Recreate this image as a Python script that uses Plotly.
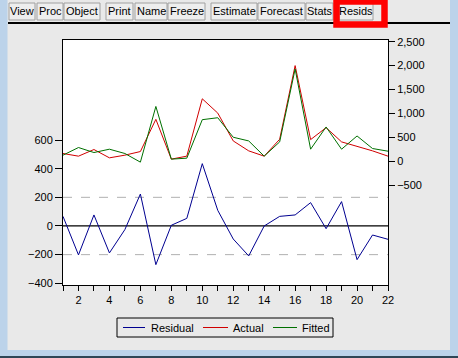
import plotly.graph_objects as go

# ---- data ----
obs = list(range(1, 23))
residual = [67, -202, 77, -188, -25, 223, -270, 5, 53, 435, 109, -91, -209, 0, 67, 77, 163, -19, 170, -235, -63, -93]
actual = [160, 104, 243, 69, 125, 201, 875, 42, 104, 1305, 1006, 423, 215, 104, 458, 2000, 451, 701, 403, 312, 215, 104]
fitted = [125, 285, 180, 250, 160, -21, 1145, 42, 62, 868, 909, 500, 423, 104, 403, 1930, 250, 715, 250, 527, 264, 208]
series_names = ["Residual", "Actual", "Fitted"]
series_colors = ["#000090", "#d00000", "#007000"]
left_ticks = [-400, -200, 0, 200, 400, 600]
right_ticks = [-500, 0, 500, 1000, 1500, 2000, 2500]
x_ticks = obs
x_ticktext = [str(v) if v % 2 == 0 else "" for v in obs]
toolbar_buttons = [("View", 9, 35), ("Proc", 37, 63), ("Object", 64, 100),
                   ("Print", 106, 133), ("Name", 135, 167), ("Freeze", 168, 205),
                   ("Estimate", 211, 257), ("Forecast", 258, 305), ("Stats", 306, 333),
                   ("Resids", 339, 373)]

W, H = 458, 358
L, R, T, B = 63, 388, 40, 285
FONT = "Liberation Sans, Arial, sans-serif"


def px(x):
    return (x - L) / (R - L)


def py(y):
    return (B - y) / (B - T)


fig = go.Figure()
fig.add_trace(go.Scatter(x=obs, y=residual, mode="lines", name=series_names[0],
                         line=dict(color=series_colors[0], width=1), yaxis="y"))
fig.add_trace(go.Scatter(x=obs, y=actual, mode="lines", name=series_names[1],
                         line=dict(color=series_colors[1], width=1), yaxis="y2"))
fig.add_trace(go.Scatter(x=obs, y=fitted, mode="lines", name=series_names[2],
                         line=dict(color=series_colors[2], width=1), yaxis="y2"))

shapes = []
annotations = []

# reference lines on residual axis
for v in (200, -200):
    shapes.append(dict(type="line", xref="paper", yref="y", x0=0, x1=1, y0=v, y1=v,
                       line=dict(color="#b0b0b0", width=1, dash="dash"), layer="below"))
shapes.append(dict(type="line", xref="paper", yref="y", x0=0, x1=1, y0=0, y1=0,
                   line=dict(color="black", width=1.3), layer="below"))

# window chrome
blue = "#bcd3ea"
shapes.append(dict(type="rect", xref="paper", yref="paper", x0=px(0), x1=px(7.5), y0=py(H), y1=py(0),
                   fillcolor=blue, line=dict(width=0)))
shapes.append(dict(type="rect", xref="paper", yref="paper", x0=px(450), x1=px(W), y0=py(H), y1=py(0),
                   fillcolor=blue, line=dict(width=0)))
shapes.append(dict(type="rect", xref="paper", yref="paper", x0=px(0), x1=px(W), y0=py(356), y1=py(350),
                   fillcolor=blue, line=dict(width=0)))
shapes.append(dict(type="rect", xref="paper", yref="paper", x0=px(0), x1=px(W), y0=py(H), y1=py(356),
                   fillcolor="#2f4656", line=dict(width=0)))

# toolbar buttons
for label, x0, x1 in toolbar_buttons:
    shapes.append(dict(type="rect", xref="paper", yref="paper", x0=px(x0), x1=px(x1),
                       y0=py(20), y1=py(3), fillcolor="#eeeeee",
                       line=dict(color="#a0a0a0", width=1)))
    annotations.append(dict(xref="paper", yref="paper", x=px((x0 + x1) / 2), y=py(11.5),
                            text=label, showarrow=False, xanchor="center", yanchor="middle",
                            font=dict(family=FONT, size=11, color="black")))
# separator line under toolbar
shapes.append(dict(type="line", xref="paper", yref="paper", x0=px(8), x1=px(450), y0=py(23), y1=py(23),
                   line=dict(color="black", width=2)))
# red highlight box
shapes.append(dict(type="rect", xref="paper", yref="paper", x0=px(336.5), x1=px(384.5),
                   y0=py(24.5), y1=py(1.5), line=dict(color="#ff0000", width=6.5)))

# legend (drawn manually to match box geometry)
shapes.append(dict(type="rect", xref="paper", yref="paper", x0=px(117), x1=px(333),
                   y0=py(337), y1=py(318), fillcolor="#e9e9e9", line=dict(color="black", width=1)))
leg_pos = [(123, 145, 149), (203, 228, 231), (273, 297, 300)]
for (lx0, lx1, tx), name, col in zip(leg_pos, series_names, series_colors):
    shapes.append(dict(type="line", xref="paper", yref="paper", x0=px(lx0), x1=px(lx1),
                       y0=py(327.5), y1=py(327.5), line=dict(color=col, width=1)))
    annotations.append(dict(xref="paper", yref="paper", x=px(tx), y=py(327.5), text=name,
                            showarrow=False, xanchor="left", yanchor="middle",
                            font=dict(family=FONT, size=11, color="black")))

fig.update_layout(
    width=W, height=H,
    margin=dict(l=L, r=W - R, t=T, b=H - B, pad=0),
    paper_bgcolor="#e9e9e9", plot_bgcolor="white",
    showlegend=False,
    font=dict(family=FONT, size=11, color="black"),
    xaxis=dict(range=[1, 22], tickvals=x_ticks, ticktext=x_ticktext, ticks="outside",
               ticklen=5, tickcolor="black", showgrid=False, zeroline=False,
               showline=True, linecolor="black", linewidth=1, mirror=True,
               tickfont=dict(size=11)),
    yaxis=dict(range=[-412, 1298], tickvals=left_ticks, ticks="outside", ticklen=7,
               tickcolor="black", showgrid=False, zeroline=False, showline=True,
               linecolor="black", linewidth=1, mirror=True, tickfont=dict(size=11)),
    yaxis2=dict(range=[-2593, 2536], tickvals=right_ticks, tickformat=",", overlaying="y",
                side="right", ticks="outside", ticklen=6, tickcolor="black", showgrid=False,
                zeroline=False, showline=False, tickfont=dict(size=11)),
    shapes=shapes,
    annotations=annotations,
)

fig.write_html("out.html")
